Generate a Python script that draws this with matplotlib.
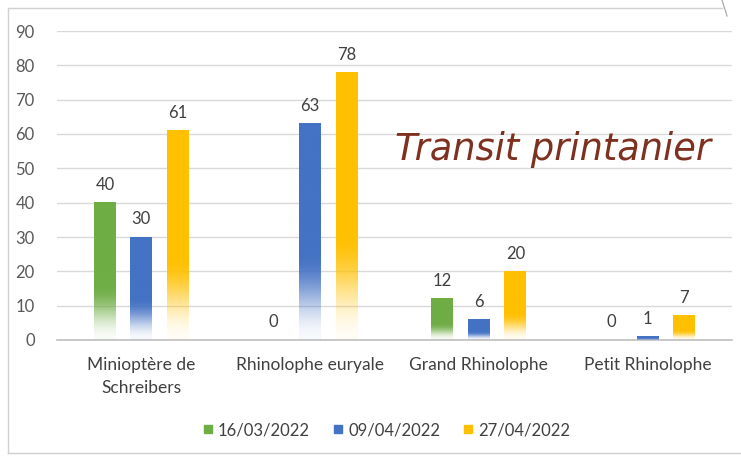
import numpy as np
import matplotlib
matplotlib.use("Agg")
import matplotlib.pyplot as plt
from matplotlib.colors import to_rgb
from matplotlib.lines import Line2D

categories = ["Miniopt\u00e8re de\nSchreibers", "Rhinolophe euryale", "Grand Rhinolophe", "Petit Rhinolophe"]
series_names = ["16/03/2022", "09/04/2022", "27/04/2022"]
s_1603 = [40, 0, 12, 0]
s_0904 = [30, 63, 6, 1]
s_2704 = [61, 78, 20, 7]
series_values = [s_1603, s_0904, s_2704]
colors = ["#6FAD45", "#4472C4", "#FFC000"]
y_ticks = [0, 10, 20, 30, 40, 50, 60, 70, 80, 90]

plt.rcParams["font.family"] = ["Lato", "DejaVu Sans"]

fig = plt.figure(figsize=(7.41, 4.58), dpi=100)
ax = fig.add_axes([57 / 741, 1 - 340 / 458, (732 - 57) / 741, (340 - 31) / 458])

x = np.arange(len(categories))
width = 0.13
offset = 0.216


def gradient_bar(ax, x0, x1, h, color):
    """Bar shaded from solid colour at the top to white at the base."""
    if h <= 0:
        return
    n = 200
    t = np.linspace(0, 1, n)  # 0 at base, 1 at top
    fade = 0.40
    alpha = np.clip(t / fade, 0, 1)
    alpha = 0.5 - 0.5 * np.cos(np.pi * alpha)
    alpha = 0.04 + 0.96 * alpha
    rgb = np.array(to_rgb(color))
    img = np.ones((n, 2, 4))
    img[:, :, :3] = rgb
    img[:, :, 3] = alpha[:, None]
    ax.imshow(img, extent=[x0, x1, 0, h], origin="lower", aspect="auto",
              interpolation="bilinear", zorder=3)


for i, (vals, col, name) in enumerate(zip(series_values, colors, series_names)):
    pos = x + (i - 1) * offset
    for p, v in zip(pos, vals):
        gradient_bar(ax, p - width / 2, p + width / 2, v, col)
        ax.text(p, v + 2.8, f"{v}", ha="center", va="bottom", fontsize=12,
                color="#404040", zorder=4)

ax.set_xlim(-0.5, len(categories) - 0.5)
ax.set_ylim(0, 90)
ax.set_yticks(y_ticks)
ax.set_yticklabels([str(v) for v in y_ticks], fontsize=12, color="#595959")
ax.set_xticks(x)
ax.set_xticklabels(categories, fontsize=12.5, color="#404040", linespacing=1.55)
ax.tick_params(axis="both", length=0)
ax.tick_params(axis="y", pad=16)
ax.tick_params(axis="x", pad=12)
ax.grid(axis="y", color="#D9D9D9", linewidth=1.0, zorder=0)
ax.set_axisbelow(True)
for side in ["top", "right", "left"]:
    ax.spines[side].set_visible(False)
ax.spines["bottom"].set_color("#BFBFBF")
ax.spines["bottom"].set_linewidth(1.2)

# title placed inside the plot area
fig.text(395 / 741, 1 - 150 / 458, "Transit printanier", fontsize=26.5,
         style="italic", fontweight="normal", color="#7E3120",
         ha="left", va="center", family=["DejaVu Sans"])

# legend
handles = [Line2D([0], [0], marker="s", linestyle="none", markersize=6,
                  markerfacecolor=c, markeredgecolor=c) for c in colors]
fig.legend(handles, series_names, loc="center", bbox_to_anchor=(385 / 741, 1 - 430 / 458),
           ncol=3, frameon=False, fontsize=12, labelcolor="#404040",
           handletextpad=0.1, columnspacing=1.2, handlelength=1.0)

# outer chart frame
frame_col = "#D0D0D0"
fig.add_artist(Line2D([8 / 741, 8 / 741], [1 - 8 / 458, 1 - 453 / 458],
                      transform=fig.transFigure, color=frame_col, lw=1))
fig.add_artist(Line2D([8 / 741, 722 / 741], [1 - 8 / 458, 1 - 8 / 458],
                      transform=fig.transFigure, color=frame_col, lw=1))
fig.add_artist(Line2D([8 / 741, 741 / 741], [1 - 453 / 458, 1 - 453 / 458],
                      transform=fig.transFigure, color=frame_col, lw=1))
fig.add_artist(Line2D([722 / 741, 727 / 741], [1 - 0 / 458, 1 - 16 / 458],
                      transform=fig.transFigure, color="#A0A0A0", lw=0.8))

fig.savefig("out.png", dpi=100)
